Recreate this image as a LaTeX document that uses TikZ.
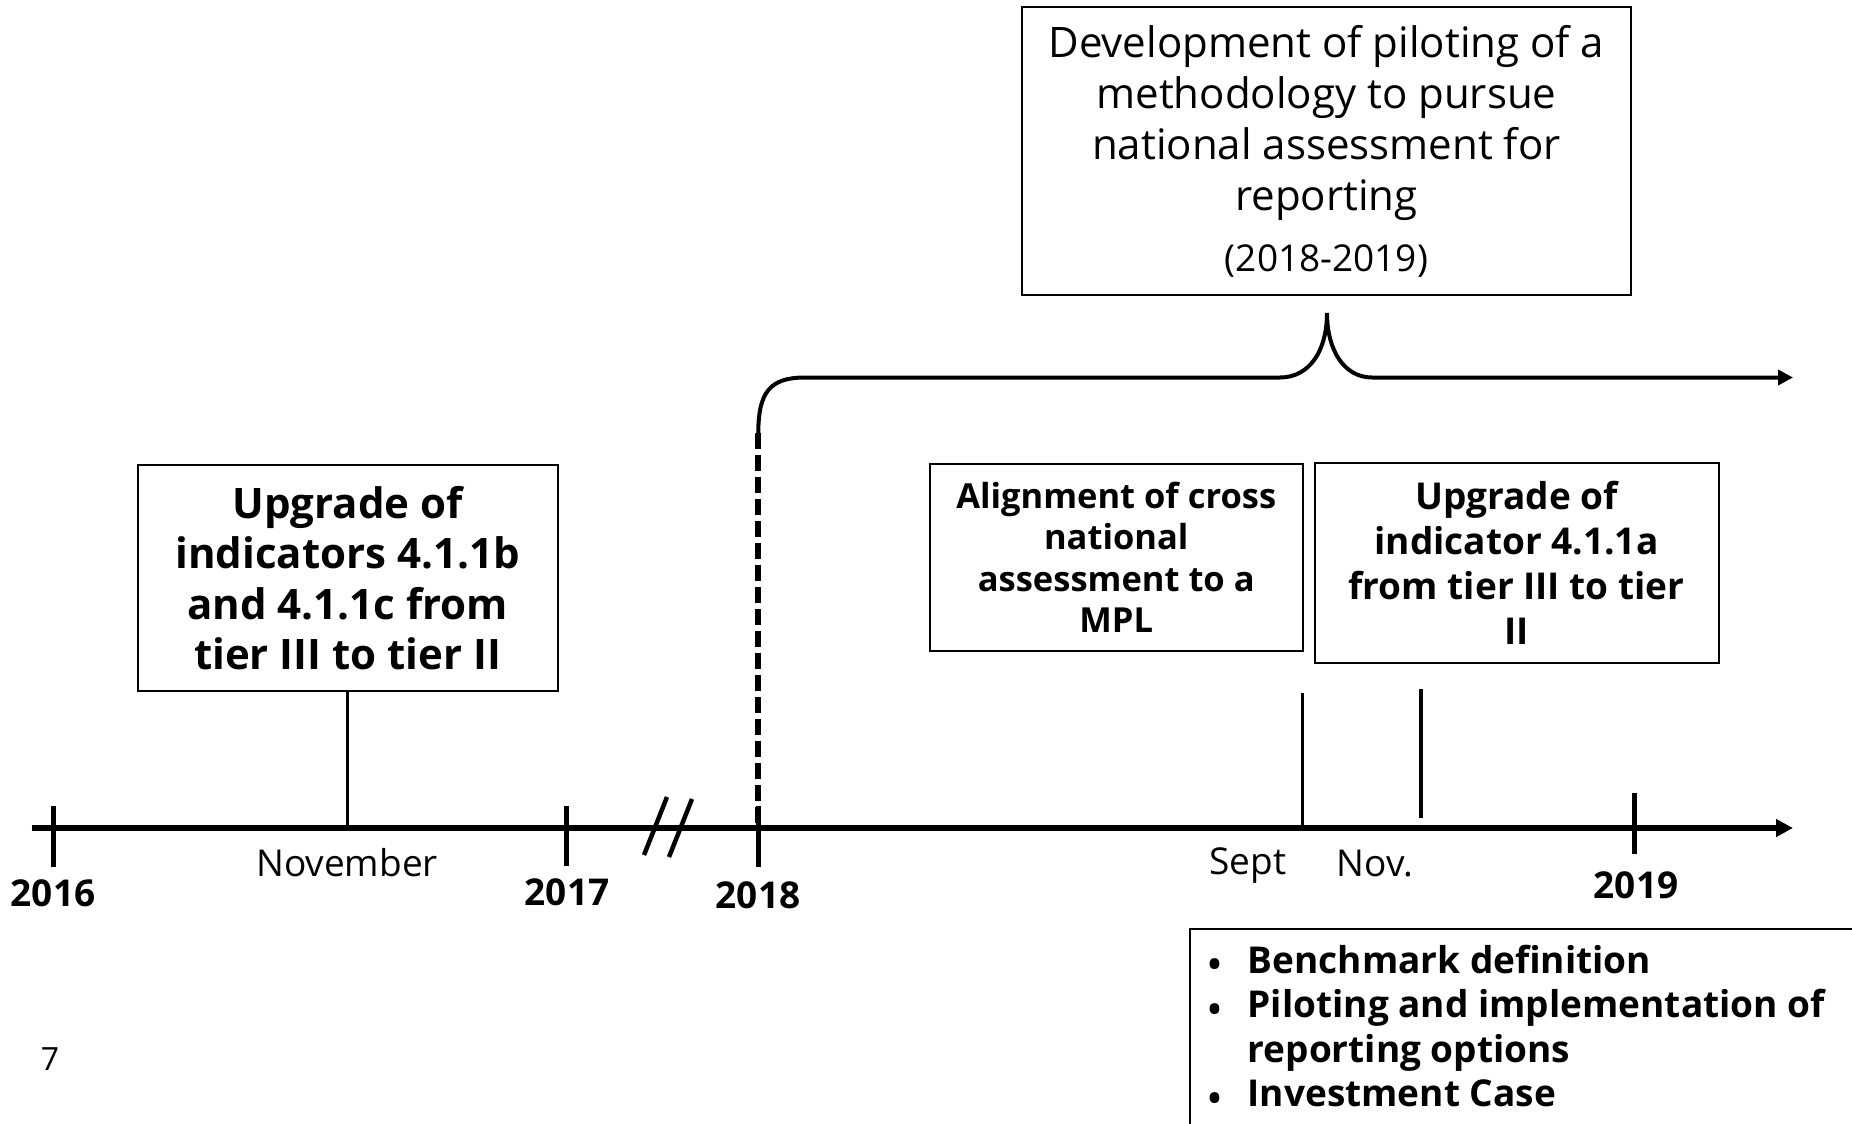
\documentclass[tikz,border=0pt]{standalone}
\usepackage{fontspec}
\setmainfont{Open Sans}
\usetikzlibrary{arrows.meta,calc}
\begin{document}
\begin{tikzpicture}[x=1pt,y=-1pt,
  box/.style={draw=black,line width=2pt,inner sep=0pt,align=center},
  axisline/.style={line width=6pt,-{Triangle[length=17pt,width=17pt]}},
  bracearrow/.style={line width=4pt,-{Triangle[length=15pt,width=15pt]}},
  tickmark/.style={line width=5.5pt},
  conn/.style={line width=3.2pt},
  slashmark/.style={line width=4.5pt},
  dashline/.style={line width=6pt,dash pattern=on 15.5pt off 6.5pt},
  yearlbl/.style={font=\fontsize{37}{44}\selectfont\bfseries,inner sep=0pt},
  monthlbl/.style={font=\fontsize{37}{44}\selectfont,inner sep=0pt},
  bullettext/.style={font=\fontsize{37}{46}\selectfont\bfseries,inner sep=0pt,anchor=base west},
  bulletdot/.style={font=\fontsize{45}{50}\selectfont,inner sep=0pt,anchor=center},
]
\useasboundingbox (0,0) rectangle (1852,1124);

% axis
\coordinate (axL) at (31.6,828);
\coordinate (axR) at (1793,828);
\draw[axisline] (axL) -- (axR);

% ticks
\coordinate (t2016) at (53.4,828);
\coordinate (t2017) at (566.6,828);
\coordinate (t2018) at (758.3,828);
\coordinate (t2019) at (1634.6,828);
\draw[tickmark] ($(t2016)+(0,-22)$) -- ($(t2016)+(0,39)$);
\draw[tickmark] ($(t2017)+(0,-22)$) -- ($(t2017)+(0,38)$);
\draw[tickmark] ($(t2018)+(0,-22)$) -- ($(t2018)+(0,39)$);
\draw[tickmark] ($(t2019)+(0,-35)$) -- ($(t2019)+(0,26)$);

% break marks
\draw[slashmark] (667,797) -- (644,855);
\draw[slashmark] (692,799) -- (669,857);

% year labels
\node[yearlbl] (l2016) at (53,893) {2016};
\node[yearlbl] (l2017) at (567,892) {2017};
\node[yearlbl] (l2018) at (758,895) {2018};
\node[yearlbl] (l2019) at (1636,885) {2019};

% month labels
\node[monthlbl] (lnov16) at (347,863) {November};
\node[monthlbl] (lsep) at (1248,866) {Sept};
\node[monthlbl] (lnov18) at (1375,864) {Nov.};

% box 1
\node[box, minimum width=419.5pt, minimum height=225.5pt,
  font=\fontsize{42}{50.5}\selectfont\bfseries] (b1) at (347.75,578)
  {Upgrade of\\indicators 4.1.1b\\and 4.1.1c from\\tier III to tier II};
\coordinate (n16) at (347.75,828);
\draw[conn] (b1.south) -- (n16);

% box 2
\node[box, minimum width=373.5pt, minimum height=187pt,
  font=\fontsize{34.5}{41.5}\selectfont\bfseries] (b2) at (1116.25,557.5)
  {Alignment of cross\\national\\assessment to a\\MPL};

% box 3
\node[box, minimum width=404pt, minimum height=199.5pt,
  font=\fontsize{37}{44.8}\selectfont\bfseries] (b3) at (1516.5,562.75)
  {Upgrade of\\indicator 4.1.1a\\from tier III to tier\\II};

% Sept / Nov lines
\coordinate (sepT) at (1302.5,693);
\coordinate (sepB) at (1302.5,827);
\draw[conn] (sepT) -- (sepB);
\coordinate (novT) at (1421,689);
\coordinate (novB) at (1421,818);
\draw[conn] (novT) -- (novB);

% top box
\node[box, minimum width=609.3pt, minimum height=288pt,
  font=\fontsize{42}{51}\selectfont] (top) at (1326.4,151)
  {Development of piloting of a\\methodology to pursue\\national assessment for\\reporting\\[10pt]{\fontsize{37}{51}\selectfont (2018-2019)}};

% dashed 2018 line and brace
\coordinate (dtop) at (758.3,433);
\coordinate (peak) at (1327,313);
\coordinate (brR) at (1793,377.5);
\draw[dashline] (dtop) -- (t2018);
\draw[bracearrow] (dtop) .. controls (758.3,392) and (770,377.5) .. (805,377.5)
  -- (1280,377.5) .. controls (1310,377.5) and (1327,350) .. (peak)
  .. controls (1327,350) and (1344,377.5) .. (1372,377.5) -- (brR);

% bullet box
\begin{scope}
\clip (0,0) rectangle (1852,1124);
\node[draw=black, line width=2pt, anchor=north west, inner sep=0pt,
  minimum width=700pt, minimum height=260pt] (bl) at (1189.4,928) {};
\end{scope}
\node[bulletdot] (d1) at (1215,970) {•};
\node[bullettext] (i1) at (1247.5,973) {Benchmark definition};
\node[bulletdot] (d2) at (1215,1014.5) {•};
\node[bullettext] (i2) at (1247.5,1017.5) {Piloting and implementation of};
\node[bullettext] (i2b) at (1247.5,1062) {reporting options};
\node[bulletdot] (d3) at (1215,1103.5) {•};
\node[bullettext] (i3) at (1247.5,1106.5) {Investment Case};

% page number
\node[font=\fontsize{32}{38}\selectfont, inner sep=0pt] (pg) at (50,1059) {7};
\end{tikzpicture}
\end{document}
